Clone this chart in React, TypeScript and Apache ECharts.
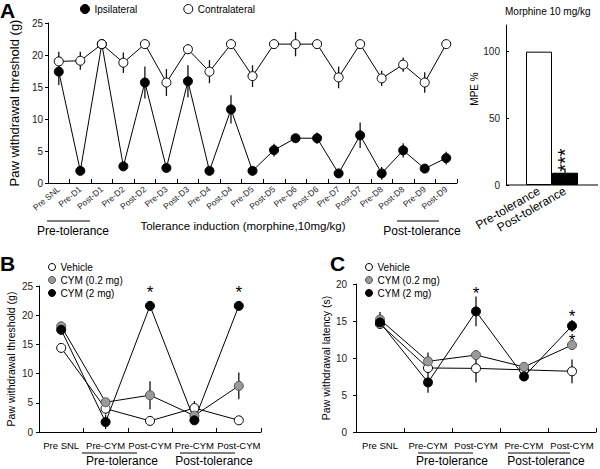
import React, { useEffect, useRef } from 'react';
import * as echarts from 'echarts';

// ---------- Panel A (left): tolerance induction ----------
const aCategories = ['Pre SNL', 'Pre-D1', 'Post-D1', 'Pre-D2', 'Post-D2', 'Pre-D3', 'Post-D3', 'Pre-D4', 'Post-D4', 'Pre-D5', 'Post-D5', 'Pre-D6', 'Post-D6', 'Pre-D7', 'Post-D7', 'Pre-D8', 'Post-D8', 'Pre-D9', 'Post-D9'];
const ipsiMean = [17.4, 1.9, 21.7, 2.6, 15.7, 2.35, 15.9, 1.9, 11.5, 1.9, 5.15, 7.0, 7.0, 1.5, 7.45, 1.5, 5.1, 2.25, 3.9];
const ipsiErr = [2.1, 0, 0, 0, 2.5, 0, 2.5, 0, 2.2, 0, 1.0, 0, 0.9, 0, 2.0, 1.0, 1.1, 0, 1.0];
const contraMean = [19.0, 19.1, 21.7, 18.8, 21.7, 15.7, 20.9, 17.4, 21.7, 16.7, 21.7, 21.7, 21.7, 16.5, 21.7, 16.35, 18.5, 15.7, 21.7];
const contraErr = [1.5, 1.4, 0, 1.6, 0, 2.1, 0.7, 1.8, 0, 1.7, 0, 1.9, 0, 1.7, 0, 1.2, 1.1, 1.6, 0];
const aTicks = { min: 0, max: 25, interval: 5 };

// ---------- Panel A (right): MPE ----------
const mpeCategories = ['Pre-tolerance', 'Post-tolerance'];
const mpeValues = [100, 9.2];
const mpeErr = [0, 3.2];
const mpeStars = ['', '***'];
const mpeTicks = { min: 0, max: 120, interval: 50 };

// ---------- Panels B & C ----------
const bcCategories = ['Pre SNL', 'Pre-CYM', 'Post-CYM', 'Pre-CYM', 'Post-CYM'];
const seriesNames = ['Vehicle', 'CYM (0.2 mg)', 'CYM (2 mg)'];

const bVehicle = [14.4, 4.0, 1.9, 4.1, 2.0];
const bVehicleErr = [0.8, 1.0, 0.5, 1.2, 0.3];
const bLow = [18.1, 5.1, 6.3, 2.8, 7.9];
const bLowErr = [0.5, 0.5, 2.4, 0.8, 2.3];
const bHigh = [17.5, 1.7, 21.6, 2.0, 21.6];
const bHighErr = [0.8, 1.2, 0.8, 0.5, 0.8];
const bHighStars = [false, false, true, false, true];
const bTicks = { min: 0, max: 25, interval: 5 };

const cVehicle = [14.6, 8.65, 8.6, 8.4, 8.2];
const cVehicleErr = [0.5, 0.6, 1.9, 0.3, 1.6];
const cLow = [15.2, 9.55, 10.4, 8.8, 11.75];
const cLowErr = [1.0, 1.2, 0.4, 0.3, 0.5];
const cHigh = [14.8, 6.7, 16.3, 7.5, 14.35];
const cHighErr = [0.7, 1.4, 2.0, 0.3, 0.8];
const cLowStars = [false, false, false, false, true];
const cHighStars = [false, false, true, false, true];
const cTicks = { min: 0, max: 20, interval: 5 };

// ---------- styles ----------
const FONT = 'Liberation Sans, Arial, Helvetica, sans-serif';
const OPEN = { color: '#ffffff', borderColor: '#000000', borderWidth: 1 };
const GRAY = { color: '#9a9a9a', borderColor: '#555555', borderWidth: 1 };
const BLACK = { color: '#000000', borderColor: '#000000', borderWidth: 1 };
const bcStyles = [OPEN, GRAY, BLACK];
const mpeBarStyles = [{ color: '#ffffff' }, { color: '#000000' }];
// vertical placement of significance stars relative to the marker (px)
const starDyB = [0, 0, -17, 0, -17];
const starDyCHigh = [0, 0, -21, 0, -13];
const starDyCLow = [0, 0, 0, 0, -8];

function errSeries(xi: number, yi: number, means: number[], errs: number[]) {
  const data = means
    .map((m, i) => [i, m - errs[i], m + errs[i]])
    .filter((_, i) => errs[i] > 0);
  return {
    type: 'custom',
    xAxisIndex: xi,
    yAxisIndex: yi,
    z: 1,
    silent: true,
    data,
    encode: { x: 0, y: [1, 2] },
    renderItem: (_params: any, api: any) => {
      const x = api.value(0);
      const p1 = api.coord([x, api.value(1)]);
      const p2 = api.coord([x, api.value(2)]);
      return {
        type: 'line',
        shape: { x1: p1[0], y1: p1[1], x2: p2[0], y2: p2[1] },
        style: { stroke: '#111', lineWidth: 1.3 },
      };
    },
  };
}

function starData(vals: number[], stars: boolean[], dy: number[]) {
  return vals.map((v, i) =>
    stars[i]
      ? {
          value: v,
          label: {
            show: true,
            position: ['50%', dy[i]],
            align: 'center',
            verticalAlign: 'top',
            formatter: '*',
            fontSize: 17,
            color: '#000',
            fontFamily: FONT,
          },
        }
      : v
  );
}

function lineSeries(name: string, xi: number, yi: number, data: any[], style: any) {
  return {
    type: 'line',
    name,
    xAxisIndex: xi,
    yAxisIndex: yi,
    data,
    symbol: 'circle',
    symbolSize: 9,
    z: 2,
    itemStyle: style,
    lineStyle: { color: '#000', width: 1 },
    labelLayout: { hideOverlap: false },
  };
}

function valueAxis(gridIndex: number, t: any, name: string, nameGap: number, nameSize: number, labelMargin: number) {
  return {
    type: 'value',
    gridIndex,
    min: t.min,
    max: t.max,
    interval: t.interval,
    name,
    nameLocation: 'middle',
    nameGap,
    nameTextStyle: { fontSize: nameSize, color: '#000', fontFamily: FONT },
    axisLine: { show: true, lineStyle: { color: '#000', width: 1 } },
    axisTick: { show: true, length: 3, lineStyle: { color: '#000' } },
    axisLabel: { fontSize: 10, color: '#222', margin: labelMargin },
    splitLine: { show: false },
  };
}

function catAxis(gridIndex: number, data: string[], extra: any) {
  return {
    type: 'category',
    gridIndex,
    data,
    boundaryGap: true,
    axisLine: { show: true, lineStyle: { color: '#000', width: 1 } },
    axisTick: { show: true, inside: true, length: 4, lineStyle: { color: '#000' } },
    ...extra,
  };
}

const legendText = { fontSize: 10, color: '#000', fontFamily: FONT };
const bcLegendData = seriesNames.map((n, i) => ({ name: n, icon: 'circle', itemStyle: bcStyles[i] }));

function gText(text: string, x: number, y: number, size: number) {
  return {
    type: 'text',
    x,
    y,
    silent: true,
    style: { text, fontSize: size, fontFamily: FONT, fill: '#000', align: 'center', verticalAlign: 'middle' },
  };
}
function gLine(x1: number, x2: number, y: number) {
  return { type: 'line', silent: true, shape: { x1, y1: y, x2, y2: y }, style: { stroke: '#000', lineWidth: 1 } };
}

const option: any = {
  animation: false,
  backgroundColor: '#fff',
  textStyle: { fontFamily: FONT },
  title: [
    { text: 'A', left: 0, top: 0, padding: 0, textStyle: { fontSize: 21, fontWeight: 'bold', color: '#000', fontFamily: FONT } },
    { text: 'B', left: 0, top: 253, padding: 0, textStyle: { fontSize: 21, fontWeight: 'bold', color: '#000', fontFamily: FONT } },
    { text: 'C', left: 330, top: 253, padding: 0, textStyle: { fontSize: 21, fontWeight: 'bold', color: '#000', fontFamily: FONT } },
    { text: 'Morphine 10 mg/kg', left: 505, top: 6, padding: 0, textStyle: { fontSize: 10, fontWeight: 'normal', color: '#000', fontFamily: FONT } },
  ],
  legend: [
    {
      left: 80, top: 4, padding: 0, itemWidth: 9, itemHeight: 9, itemGap: 46, textStyle: legendText,
      data: [
        { name: 'Ipsilateral', icon: 'circle', itemStyle: BLACK },
        { name: 'Contralateral', icon: 'circle', itemStyle: OPEN },
      ],
    },
    { orient: 'vertical', left: 48, top: 262, padding: 0, itemWidth: 7, itemHeight: 7, itemGap: 3, textStyle: legendText, data: bcLegendData },
    { orient: 'vertical', left: 365, top: 262, padding: 0, itemWidth: 7, itemHeight: 7, itemGap: 3, textStyle: legendText, data: bcLegendData },
  ],
  grid: [
    { left: 38, top: 23, width: 419, height: 160 },
    { left: 526, top: 25, width: 52, height: 160 },
    { left: 39, top: 286, width: 222, height: 146 },
    { left: 356, top: 284, width: 240, height: 148 },
  ],
  xAxis: [
    catAxis(0, aCategories, { axisLabel: { interval: 0, rotate: 40, fontSize: 8.5, color: '#222', margin: 5 } }),
    {
      type: 'category', gridIndex: 1, data: mpeCategories, boundaryGap: true,
      axisLine: { show: false }, axisTick: { show: false },
      axisLabel: { interval: 0, rotate: 30, fontSize: 12, color: '#000', margin: 5 },
    },
    catAxis(2, bcCategories, { axisLabel: { interval: 0, fontSize: 9.5, color: '#000', margin: 8 } }),
    catAxis(3, bcCategories, { axisLabel: { interval: 0, fontSize: 9.5, color: '#000', margin: 8 } }),
  ],
  yAxis: [
    valueAxis(0, aTicks, 'Paw withdrawal threshold (g)', 24, 13, 5),
    {
      ...valueAxis(1, mpeTicks, 'MPE %', 24, 10, 6),
      offset: 20,
      axisTick: { show: true, inside: true, length: 3, lineStyle: { color: '#000' } },
      axisLabel: { fontSize: 10, color: '#222', margin: 6, showMaxLabel: false },
      nameTextStyle: { fontSize: 10, color: '#000', fontFamily: FONT, padding: [0, 0, 0, 32] },
    },
    valueAxis(2, bTicks, 'Paw withdrawal threshold (g)', 23, 10.5, 6),
    valueAxis(3, cTicks, 'Paw withdrawal latency (s)', 22, 10.5, 9),
  ],
  series: [
    // Panel A
    errSeries(0, 0, ipsiMean, ipsiErr),
    errSeries(0, 0, contraMean, contraErr),
    lineSeries('Ipsilateral', 0, 0, ipsiMean, BLACK),
    lineSeries('Contralateral', 0, 0, contraMean, OPEN),
    // MPE bars
    {
      type: 'bar',
      xAxisIndex: 1,
      yAxisIndex: 1,
      barWidth: 26,
      z: 2,
      data: mpeValues.map((v, i) => ({
        value: v,
        itemStyle: { ...mpeBarStyles[i], borderColor: '#000', borderWidth: 1 },
        label: mpeStars[i]
          ? { show: true, position: 'top', formatter: mpeStars[i], rotate: 90, align: 'left', verticalAlign: 'middle', distance: 1, fontSize: 20, color: '#000' }
          : { show: false },
      })),
    },
    { ...errSeries(1, 1, mpeValues, mpeErr), z: 3 },
    // Panel B
    errSeries(2, 2, bVehicle, bVehicleErr),
    errSeries(2, 2, bLow, bLowErr),
    errSeries(2, 2, bHigh, bHighErr),
    lineSeries(seriesNames[0], 2, 2, bVehicle, OPEN),
    lineSeries(seriesNames[1], 2, 2, bLow, GRAY),
    lineSeries(seriesNames[2], 2, 2, starData(bHigh, bHighStars, starDyB), BLACK),
    // Panel C
    errSeries(3, 3, cVehicle, cVehicleErr),
    errSeries(3, 3, cLow, cLowErr),
    errSeries(3, 3, cHigh, cHighErr),
    lineSeries(seriesNames[0], 3, 3, cVehicle, OPEN),
    lineSeries(seriesNames[1], 3, 3, starData(cLow, cLowStars, starDyCLow), GRAY),
    lineSeries(seriesNames[2], 3, 3, starData(cHigh, cHighStars, starDyCHigh), BLACK),
  ],
  graphic: [
    gLine(506, 598, 185),
    gLine(47, 90, 221),
    gLine(397, 439, 221),
    gText('Pre-tolerance', 73, 231, 12),
    gText('Tolerance induction (morphine,10mg/kg)', 243, 226, 11.5),
    gText('Post-tolerance', 422, 231, 12),
    gLine(82, 137, 453),
    gLine(180, 235, 453),
    gText('Pre-tolerance', 122, 461, 12),
    gText('Post-tolerance', 214, 461, 12),
    gLine(418, 473, 453),
    gLine(508, 570, 453),
    gText('Pre-tolerance', 452, 461, 12),
    gText('Post-tolerance', 546, 461, 12),
  ],
};

export default function App() {
  const ref = useRef<HTMLDivElement>(null);
  useEffect(() => {
    if (!ref.current) return;
    const chart = echarts.init(ref.current, null, { renderer: 'svg' });
    chart.setOption(option);
    return () => chart.dispose();
  }, []);
  return (
    <div
      ref={ref}
      style={{ position: 'absolute', left: 0, top: 0, width: 600, height: 469, background: '#fff' }}
    />
  );
}
